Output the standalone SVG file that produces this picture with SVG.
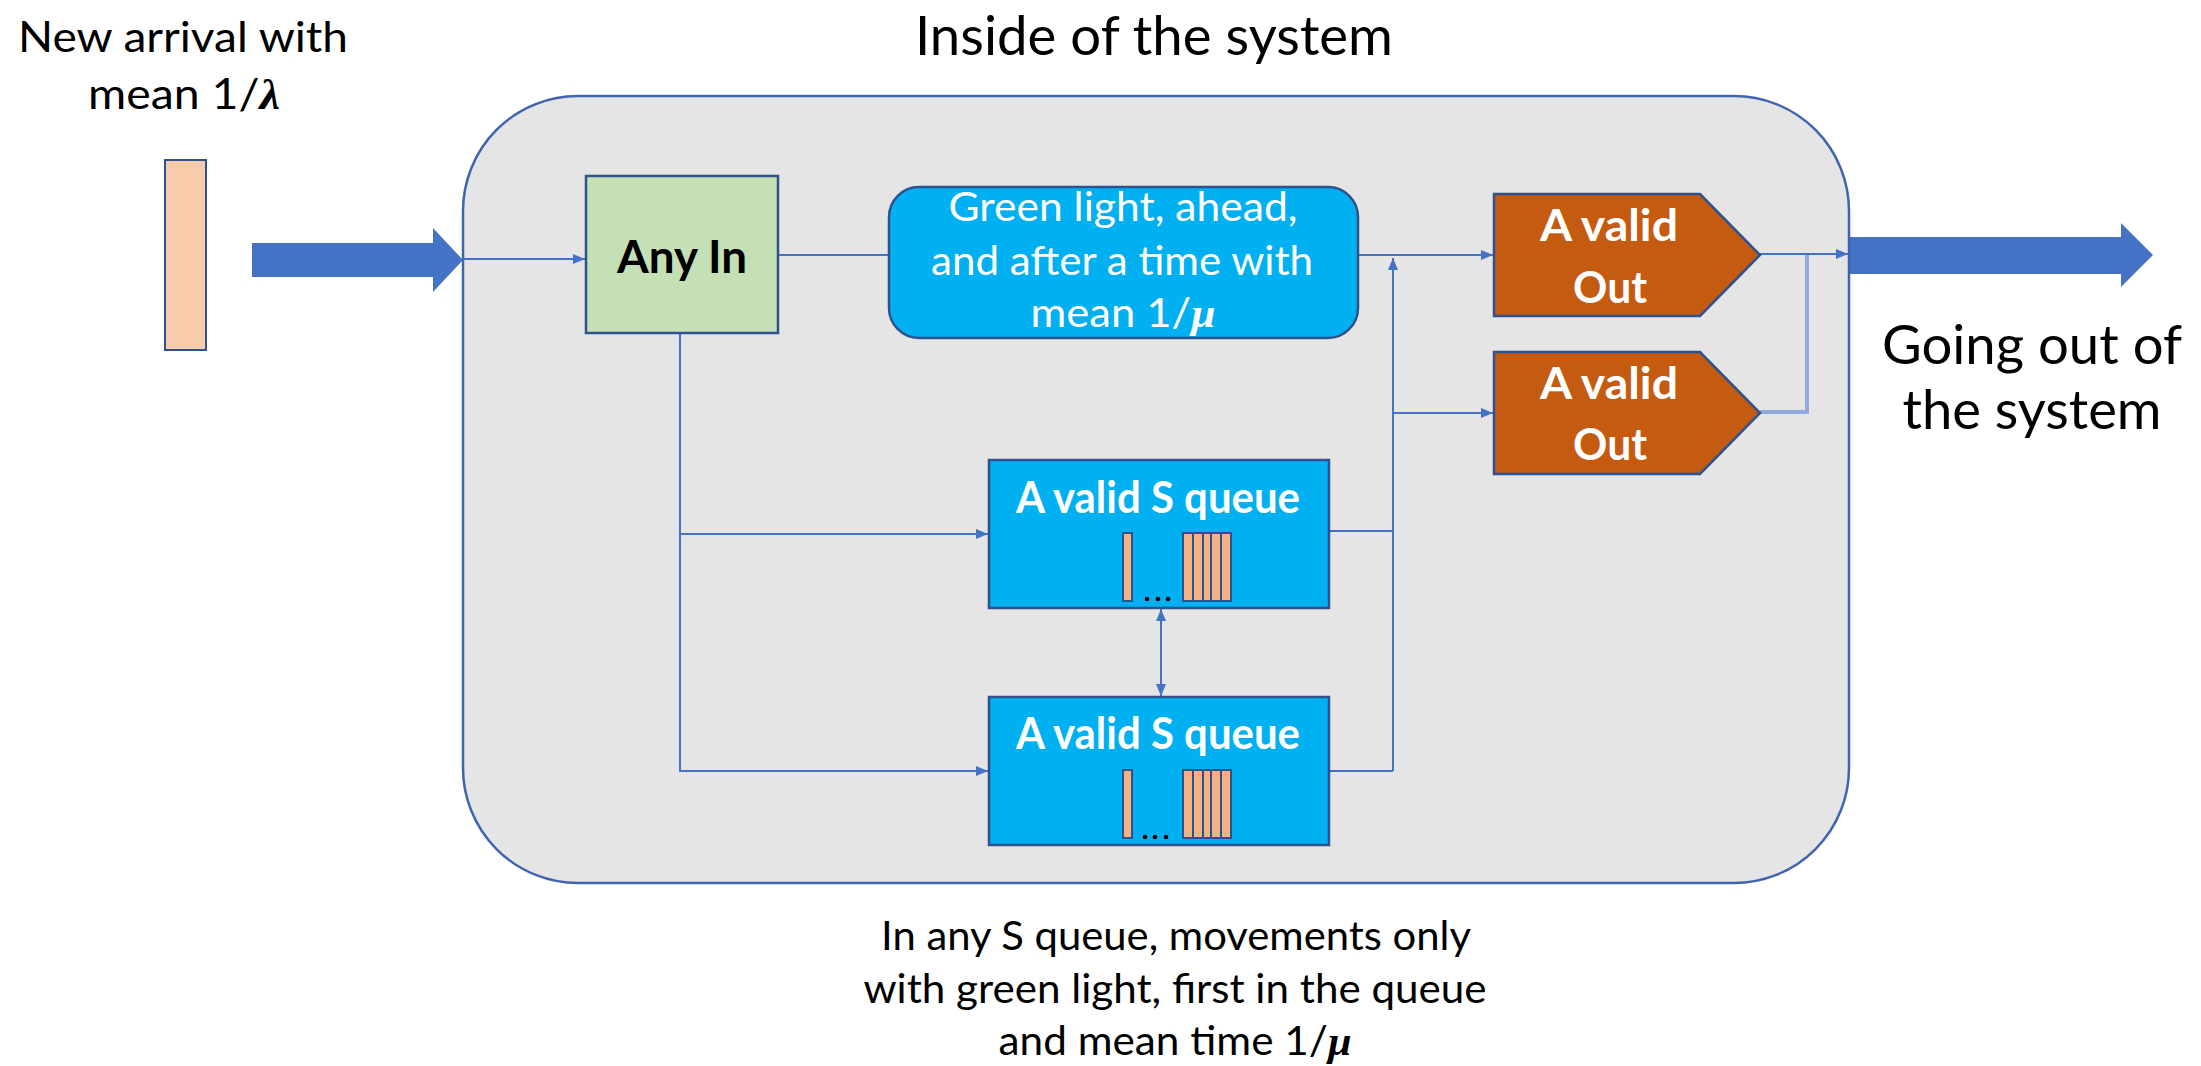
<svg xmlns="http://www.w3.org/2000/svg" width="2201" height="1066" viewBox="0 0 2201 1066">
  <style>
    .lbl { font-family: Lato, "Liberation Sans", sans-serif; fill: #000; text-anchor: middle; }
    .in { font-family: Lato, "Liberation Sans", sans-serif; fill: #fff; text-anchor: middle; }
    .b { font-weight: bold; }
    .greek { font-family: "Liberation Serif", "DejaVu Serif", serif; font-weight: bold; font-style: italic; }
    .box { stroke: #2F528F; stroke-width: 2.5; }
    .conn { fill: none; stroke: #4472C4; stroke-width: 2; }
    .bar { fill: #F4B183; stroke: #2F528F; stroke-width: 2; }
  </style>
  <defs>
    <marker id="ah" markerUnits="userSpaceOnUse" markerWidth="12" markerHeight="12" viewBox="0 0 12 12" refX="12" refY="6" orient="auto-start-reverse">
      <path d="M0,1 L12,6 L0,11 Z" fill="#4472C4"/>
    </marker>
  </defs>

  <rect width="2201" height="1066" fill="#ffffff"/>

  <!-- outer labels -->
  <text class="lbl" x="183" y="52" font-size="43" textLength="330" lengthAdjust="spacingAndGlyphs">New arrival with</text>
  <text class="lbl" x="184" y="109" font-size="43" textLength="192" lengthAdjust="spacingAndGlyphs">mean 1/<tspan class="greek">λ</tspan></text>
  <text class="lbl" x="1154" y="55" font-size="54" textLength="478" lengthAdjust="spacingAndGlyphs">Inside of the system</text>
  <text class="lbl" x="2032" y="364" font-size="55" textLength="300" lengthAdjust="spacingAndGlyphs">Going out of</text>
  <text class="lbl" x="2032" y="429" font-size="55" textLength="259" lengthAdjust="spacingAndGlyphs">the system</text>
  <text class="lbl" x="1176" y="950" font-size="40" textLength="590" lengthAdjust="spacingAndGlyphs">In any S queue, movements only</text>
  <text class="lbl" x="1175" y="1003" font-size="40" textLength="623" lengthAdjust="spacingAndGlyphs">with green light, first in the queue</text>
  <text class="lbl" x="1175" y="1055" font-size="40" textLength="353" lengthAdjust="spacingAndGlyphs">and mean time 1/<tspan class="greek">μ</tspan></text>

  <!-- arriving item -->
  <g id="arrival">
    <rect x="165" y="160" width="41" height="190" fill="#F8CBAD" stroke="#2F528F" stroke-width="2"/>
  </g>

  <!-- thick flow arrows -->
  <g id="flow-in">
    <polygon points="252,243 433,243 433,228 463,260 433,292 433,277 252,277" fill="#4472C4"/>
  </g>
  <g id="flow-out">
    <polygon points="1850,237 2121,237 2121,223 2153,255 2121,287 2121,274 1850,274" fill="#4472C4"/>
  </g>

  <!-- system boundary -->
  <g id="system">
    <rect x="463" y="96" width="1386" height="787" rx="115" ry="115" fill="#E5E5E5" stroke="#3F65B0" stroke-width="2.5"/>
  </g>

  <!-- connectors -->
  <g id="connectors">
    <path class="conn" d="M463,259 H585" marker-end="url(#ah)"/>
    <path class="conn" d="M778,255 H889"/>
    <path class="conn" d="M1358,255 H1493" marker-end="url(#ah)"/>
    <path class="conn" d="M1393,771 V258" marker-end="url(#ah)"/>
    <path class="conn" d="M1393,413 H1493" marker-end="url(#ah)"/>
    <path class="conn" d="M1329,531 H1393"/>
    <path class="conn" d="M1329,771 H1393"/>
    <path class="conn" d="M680,333 V771 H988" marker-end="url(#ah)"/>
    <path class="conn" d="M680,534 H988" marker-end="url(#ah)"/>
    <path class="conn" d="M1161,609 V696" marker-start="url(#ah)" marker-end="url(#ah)"/>
    <path class="conn" d="M1760,254 H1848" marker-end="url(#ah)"/>
    <path d="M1760,412 H1807 V255" fill="none" stroke="#8FAADC" stroke-width="4"/>
  </g>

  <!-- entry node -->
  <g id="any-in">
    <rect class="box" x="586" y="176" width="192" height="157" fill="#C5E0B4"/>
    <text class="lbl b" x="682" y="273" font-size="45" textLength="130" lengthAdjust="spacingAndGlyphs">Any In</text>
  </g>

  <!-- direct green-light path -->
  <g id="green-ahead">
    <rect class="box" x="889" y="187" width="469" height="151" rx="30" ry="30" fill="#00B0F0"/>
    <text class="in" x="1123" y="221" font-size="41" textLength="349" lengthAdjust="spacingAndGlyphs">Green light, ahead,</text>
    <text class="in" x="1122" y="275" font-size="41" textLength="382" lengthAdjust="spacingAndGlyphs">and after a time with</text>
    <text class="in" x="1123" y="327" font-size="41" textLength="185" lengthAdjust="spacingAndGlyphs">mean 1/<tspan class="greek">μ</tspan></text>
  </g>

  <!-- exits -->
  <g id="out-1">
    <path class="box" d="M1494,194 H1700 L1760,255 L1700,316 H1494 Z" fill="#C55A11"/>
    <text class="in b" x="1609" y="241" font-size="44" textLength="138" lengthAdjust="spacingAndGlyphs">A valid</text>
    <text class="in b" x="1610" y="303" font-size="44" textLength="74" lengthAdjust="spacingAndGlyphs">Out</text>
  </g>
  <g id="out-2">
    <path class="box" d="M1494,352 H1700 L1760,413 L1700,474 H1494 Z" fill="#C55A11"/>
    <text class="in b" x="1609" y="399" font-size="44" textLength="138" lengthAdjust="spacingAndGlyphs">A valid</text>
    <text class="in b" x="1610" y="460" font-size="44" textLength="74" lengthAdjust="spacingAndGlyphs">Out</text>
  </g>

  <!-- S queues -->
  <g id="queue-1">
    <rect class="box" x="989" y="460" width="340" height="148" fill="#00B0F0"/>
    <text class="in b" x="1158" y="513" font-size="43" textLength="284" lengthAdjust="spacingAndGlyphs">A valid S queue</text>
    <rect class="bar" x="1123" y="533" width="9" height="68"/>
    <rect class="bar" x="1183" y="533" width="10" height="68"/>
    <rect class="bar" x="1193" y="533" width="10" height="68"/>
    <rect class="bar" x="1203" y="533" width="8" height="68"/>
    <rect class="bar" x="1211" y="533" width="10" height="68"/>
    <rect class="bar" x="1221" y="533" width="10" height="68"/>
    <circle cx="1147" cy="599" r="2.3" fill="#000"/>
    <circle cx="1158" cy="599" r="2.3" fill="#000"/>
    <circle cx="1168" cy="599" r="2.3" fill="#000"/>
  </g>
  <g id="queue-2">
    <rect class="box" x="989" y="697" width="340" height="148" fill="#00B0F0"/>
    <text class="in b" x="1158" y="749" font-size="43" textLength="284" lengthAdjust="spacingAndGlyphs">A valid S queue</text>
    <rect class="bar" x="1123" y="770" width="9" height="68"/>
    <rect class="bar" x="1183" y="770" width="10" height="68"/>
    <rect class="bar" x="1193" y="770" width="10" height="68"/>
    <rect class="bar" x="1203" y="770" width="8" height="68"/>
    <rect class="bar" x="1211" y="770" width="10" height="68"/>
    <rect class="bar" x="1221" y="770" width="10" height="68"/>
    <circle cx="1145" cy="837" r="2.3" fill="#000"/>
    <circle cx="1155" cy="837" r="2.3" fill="#000"/>
    <circle cx="1166" cy="837" r="2.3" fill="#000"/>
  </g>
</svg>
